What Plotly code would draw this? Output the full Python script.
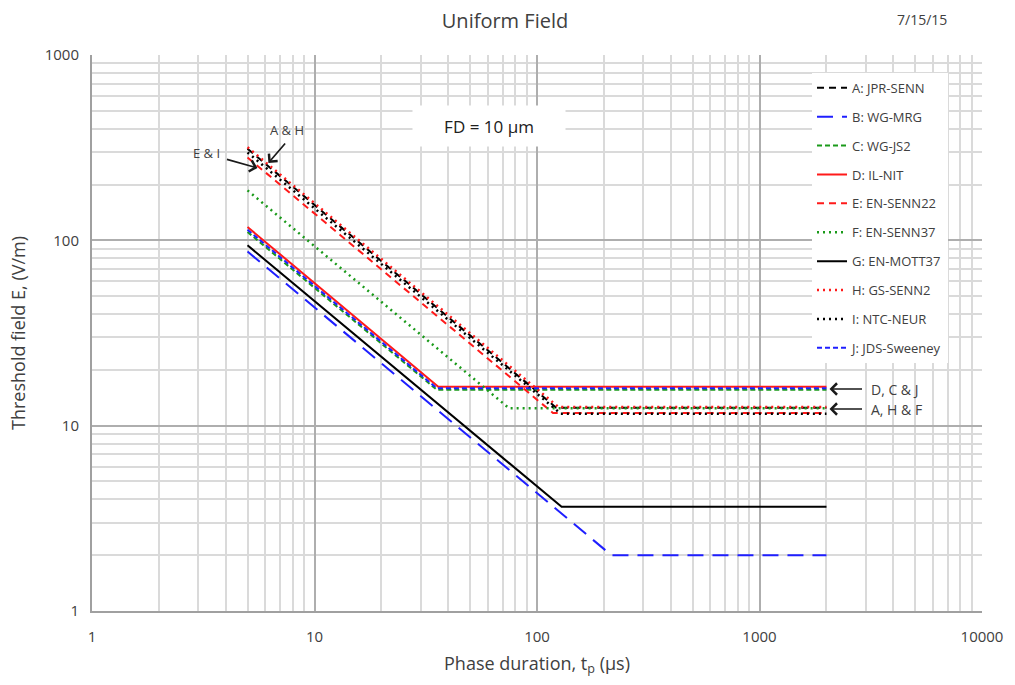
import plotly.graph_objects as go

# ---- data ----
names = ["A: JPR-SENN", "B: WG-MRG", "C: WG-JS2", "D: IL-NIT", "E: EN-SENN22",
         "F: EN-SENN37", "G: EN-MOTT37", "H: GS-SENN2", "I: NTC-NEUR", "J: JDS-Sweeney"]

tp_A = [5, 122, 2000];  E_A = [312, 12.5, 12.5]
tp_B = [5, 216, 2000];  E_B = [87, 2.0, 2.0]
tp_C = [5, 35.5, 2000]; E_C = [111, 15.6, 15.6]
tp_D = [5, 36, 2000];   E_D = [118, 16.2, 16.2]
tp_E = [5, 118, 2000];  E_E = [280, 11.7, 11.7]
tp_F = [5, 75, 2000];   E_F = [186, 12.4, 12.4]
tp_G = [5, 129, 2000];  E_G = [94, 3.65, 3.65]
tp_H = [5, 125, 2000];  E_H = [318, 12.6, 12.6]
tp_I = [5, 128, 2000];  E_I = [298, 11.6, 11.6]
tp_J = [5, 35.5, 2000]; E_J = [114, 15.9, 15.9]

x_tick_vals = [1, 10, 100, 1000, 10000]
x_tick_text = ["1", "10", "100", "1000", "10000"]
y_tick_vals = [1, 10, 100, 1000]
y_tick_text = ["1", "10", "100", "1000"]

series = [
    (tp_A, E_A, "#000000", "7px,5px", 2),
    (tp_B, E_B, "#1f1fff", "16px,9px", 2),
    (tp_C, E_C, "#1a9a1a", "5px,3px", 2),
    (tp_D, E_D, "#ff1a1a", "solid", 2),
    (tp_E, E_E, "#ff1a1a", "7px,5px", 2),
    (tp_F, E_F, "#1a9a1a", "2px,4px", 2.5),
    (tp_G, E_G, "#000000", "solid", 2),
    (tp_H, E_H, "#ff1a1a", "2px,4px", 2.5),
    (tp_I, E_I, "#000000", "2px,4px", 2.5),
    (tp_J, E_J, "#1f1fff", "5px,3px", 2),
]

FONT = "'Open Sans', sans-serif"
TXT = "#404040"

fig = go.Figure()
for name, (x, y, col, dsh, w) in zip(names, series):
    fig.add_trace(go.Scatter(x=x, y=y, mode="lines", name=name,
                             legendgroup=name,
                             line=dict(color=col, width=w, dash=dsh)))

grid_major = "#aeaeae"
grid_minor = "#dadada"

fig.update_xaxes(type="log", range=[0, 4], tickvals=x_tick_vals, ticktext=x_tick_text,
                 showgrid=True, gridcolor=grid_major, gridwidth=2,
                 minor=dict(dtick="D1", showgrid=True, gridcolor=grid_minor, gridwidth=2, ticks=""),
                 showline=True, linecolor="#a0a0a0", linewidth=2, ticks="", zeroline=False,
                 ticklabelstandoff=11,
                 tickfont=dict(family=FONT, size=15, color=TXT),
                 title=dict(text="Phase duration, t<sub>p</sub> (µs)",
                            font=dict(family=FONT, size=18, color=TXT), standoff=12))
fig.update_yaxes(type="log", range=[0, 3], tickvals=y_tick_vals, ticktext=y_tick_text,
                 showgrid=True, gridcolor=grid_major, gridwidth=2,
                 minor=dict(dtick="D1", showgrid=True, gridcolor=grid_minor, gridwidth=2, ticks=""),
                 showline=True, linecolor="#a0a0a0", linewidth=2, ticks="", zeroline=False,
                 ticklabelstandoff=8,
                 tickfont=dict(family=FONT, size=15, color=TXT),
                 title=dict(text="Threshold field E, (V/m)",
                            font=dict(family=FONT, size=18, color=TXT), standoff=14))

fig.update_layout(
    width=1015, height=685,
    margin=dict(l=92, r=30, t=55, b=74),
    paper_bgcolor="white", plot_bgcolor="white",
    font=dict(family=FONT, color=TXT),
    title=dict(text="Uniform Field", x=505 / 1015, xanchor="center",
               y=1 - 21 / 685, yanchor="middle",
               font=dict(family=FONT, size=20, color=TXT)),
    legend=dict(x=0.809, y=0.968, xanchor="left", yanchor="top",
                bgcolor="white", borderwidth=0, tracegroupgap=9,
                font=dict(family=FONT, size=13, color=TXT)),
)


def px_to_paper(px, py):
    return (px - 92) / 893, 1 - (py - 55) / 556


# date
dx, dy = px_to_paper(925, 20)
fig.add_annotation(x=dx, y=dy, xref="paper", yref="paper", text="7/15/15", showarrow=False,
                   xanchor="center", yanchor="middle",
                   font=dict(family=FONT, size=14, color=TXT))

# FD box
fx, fy = px_to_paper(490, 126)
fig.add_annotation(x=fx, y=fy, xref="paper", yref="paper",
                   text="FD = 10 µm", showarrow=False, bgcolor="white",
                   width=150, height=38, xanchor="center", yanchor="middle",
                   font=dict(family=FONT, size=17, color="#202020"))


def arrow(tail, head, label, label_pos, anchor="center", size=13):
    hx, hy = px_to_paper(*head)
    fig.add_annotation(x=hx, y=hy, xref="paper", yref="paper",
                       ax=tail[0] - head[0], ay=tail[1] - head[1],
                       axref="pixel", ayref="pixel",
                       text="", showarrow=True, arrowhead=4, arrowsize=1.3,
                       arrowwidth=1.7, arrowcolor="#1a1a1a")
    lx, ly = px_to_paper(*label_pos)
    fig.add_annotation(x=lx, y=ly, xref="paper", yref="paper", text=label,
                       showarrow=False, xanchor=anchor, yanchor="middle",
                       font=dict(family=FONT, size=size, color=TXT))


arrow((287, 142), (269, 163), "A &amp; H", (288, 130))
arrow((226, 159), (258, 168), "E &amp; I", (207, 153))
arrow((866, 389), (832, 389), "D, C &amp; J", (872, 389), "left", 14)
arrow((866, 409), (832, 409), "A, H &amp; F", (872, 409), "left", 14)

# remove the browser's default 8px body margin so the figure fills the window
fig.write_html("out.html", config={"displayModeBar": False},
               post_script="document.body.style.margin='0';")
